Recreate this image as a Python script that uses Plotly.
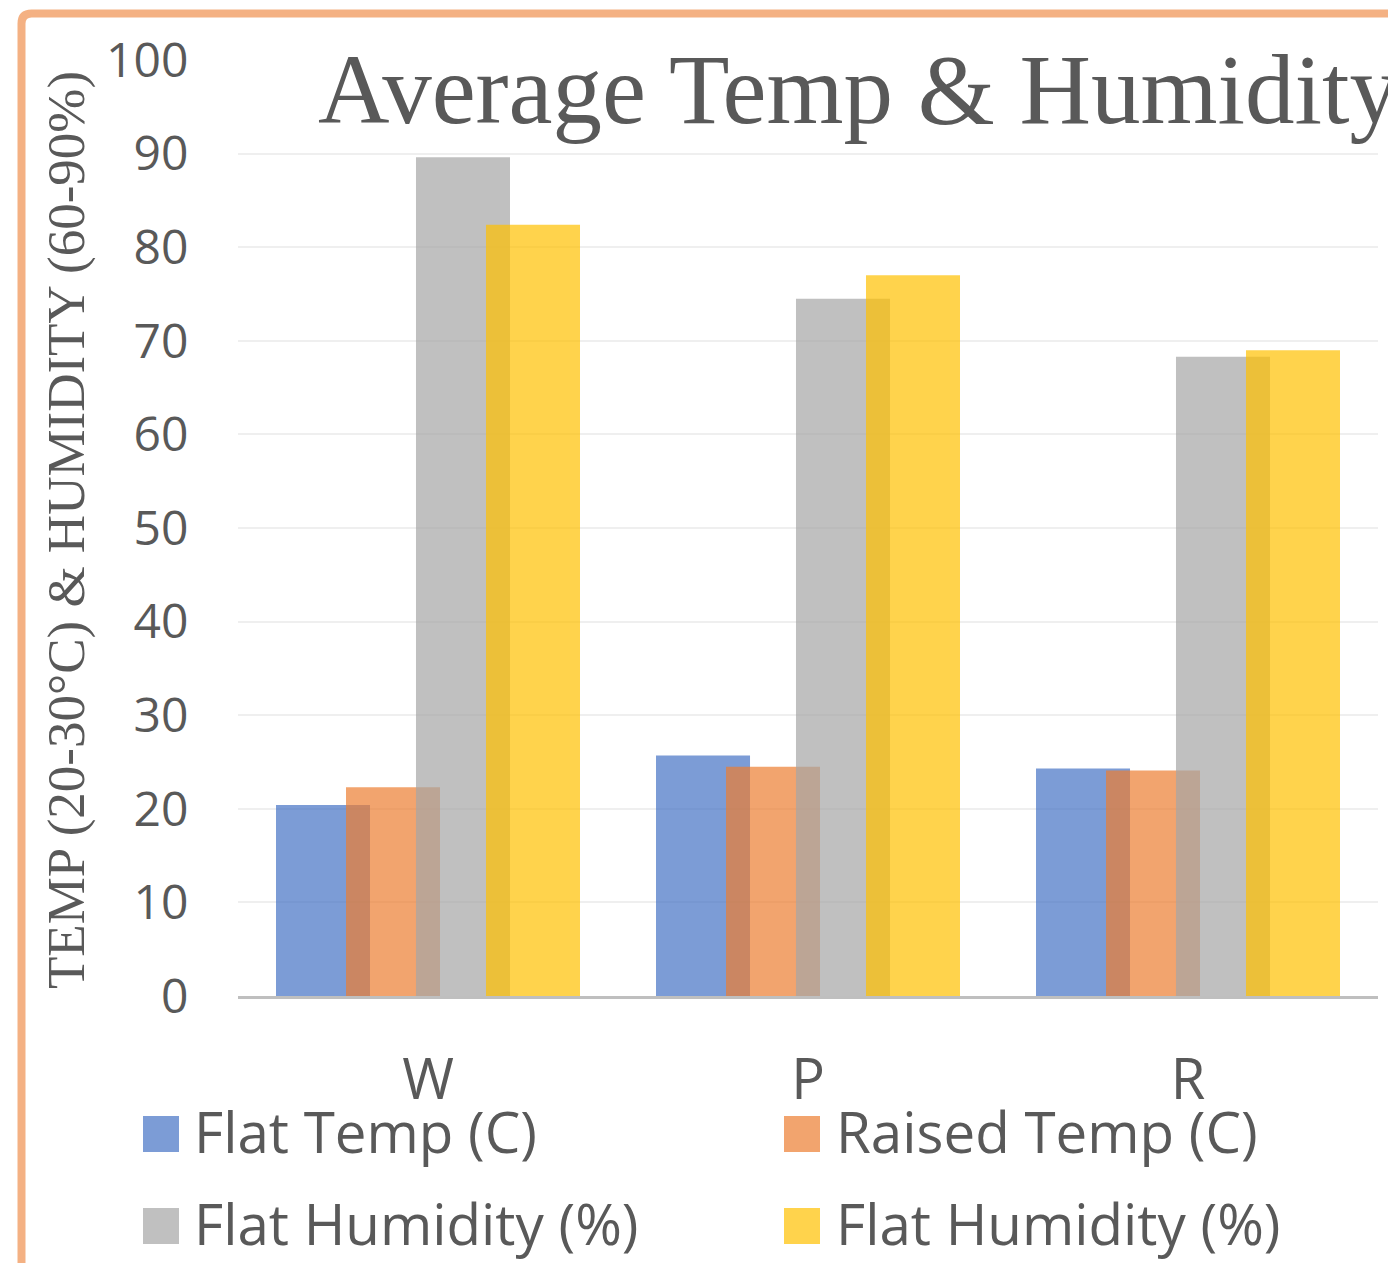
import plotly.graph_objects as go

# ---- data ----
categories = ["W", "P", "R"]
series_names = ["Flat Temp (C)", "Raised Temp (C)", "Flat Humidity (%)", "Flat Humidity (%)"]
flat_temp = [20.4, 25.7, 24.3]
raised_temp = [22.3, 24.5, 24.1]
flat_humidity = [89.6, 74.5, 68.3]
flat_humidity_2 = [82.4, 77.0, 69.0]
y_ticks = [0, 10, 20, 30, 40, 50, 60, 70, 80, 90, 100]

series_values = [flat_temp, raised_temp, flat_humidity, flat_humidity_2]
colors = ["#4472C4", "#ED7D31", "#A5A5A5", "#FFC000"]

# ---- geometry (pixels, page coordinates; page body has 8px margin) ----
OFF = 8
W, H = 1396, 1263
L, R, T, B = 238 - OFF, 1378 - OFF, 60 - OFF, 996 - OFF
PW, PH = R - L, B - T


def px(xp):
    return (xp - OFF - L) / PW


def py(yp):
    return (B - (yp - OFF)) / PH


bar_w = 0.2474
step = 0.1842
start = -0.40
x_pos = list(range(len(categories)))

fig = go.Figure()
for i, (name, vals, col) in enumerate(zip(series_names, series_values, colors)):
    fig.add_trace(go.Bar(
        x=x_pos, y=vals, name=name,
        width=bar_w, offset=start + i * step,
        marker=dict(color=col, line=dict(width=0)),
        opacity=0.7, showlegend=False,
    ))

font_sans = "Open Sans"
font_serif = "Liberation Serif"
grey = "#595959"

annotations = [
    dict(text="Average Temp & Humidity", x=px(316), y=py(89), xref="paper", yref="paper",
         xanchor="left", yanchor="middle", showarrow=False,
         font=dict(family=font_serif, size=99, color=grey)),
    dict(text="TEMP (20-30°C) & HUMIDITY (60-90%)", x=px(66), y=py(530), xref="paper", yref="paper",
         xanchor="center", yanchor="middle", showarrow=False, textangle=-90,
         font=dict(family=font_serif, size=53, color=grey)),
]

shapes = []
# legend (manual, large square swatches)
leg_cols = [143, 784]
leg_text_x = [192, 834]
leg_rows = [1134, 1226]
for i, (name, col) in enumerate(zip(series_names, colors)):
    c = i % 2
    r = i // 2
    cx, cy = leg_cols[c], leg_rows[r]
    shapes.append(dict(type="rect", xref="paper", yref="paper",
                       x0=px(cx), x1=px(cx + 36), y0=py(cy - 18), y1=py(cy + 18),
                       fillcolor=col, opacity=0.7, line=dict(width=0)))
    annotations.append(dict(text=name, x=px(leg_text_x[c]), y=py(cy - 3), xref="paper", yref="paper",
                            xanchor="left", yanchor="middle", showarrow=False,
                            font=dict(family=font_sans, size=56.5, color=grey)))

# chart border (top and left, rounded corner)
bx, by = 21.5, 13.5
path = (f"M {px(bx)} {py(1290)} L {px(bx)} {py(by + 10)} "
        f"Q {px(bx)} {py(by)} {px(bx + 10)} {py(by)} L {px(1420)} {py(by)}")
shapes.append(dict(type="path", xref="paper", yref="paper", path=path,
                   line=dict(color="#F4B183", width=8)))

fig.update_layout(
    width=W, height=H,
    margin=dict(l=L, r=W - R, t=T, b=H - B),
    paper_bgcolor="white", plot_bgcolor="white",
    barmode="overlay",
    showlegend=False,
    annotations=annotations,
    shapes=shapes,
    xaxis=dict(range=[-0.5, 2.5], tickvals=x_pos, ticktext=categories,
               showgrid=False, zeroline=False,
               showline=True, linecolor="#BFBFBF", linewidth=3,
               ticks="outside", ticklen=33, tickcolor="rgba(0,0,0,0)",
               tickfont=dict(family=font_sans, size=56, color=grey)),
    yaxis=dict(range=[0, 100], tickvals=y_ticks,
               showgrid=True, gridcolor="#EFEFEF", gridwidth=2,
               zeroline=False, showline=False,
               ticks="outside", ticklen=39, tickcolor="rgba(0,0,0,0)",
               tickfont=dict(family=font_sans, size=48, color=grey)),
)

fig.write_html("out.html")
